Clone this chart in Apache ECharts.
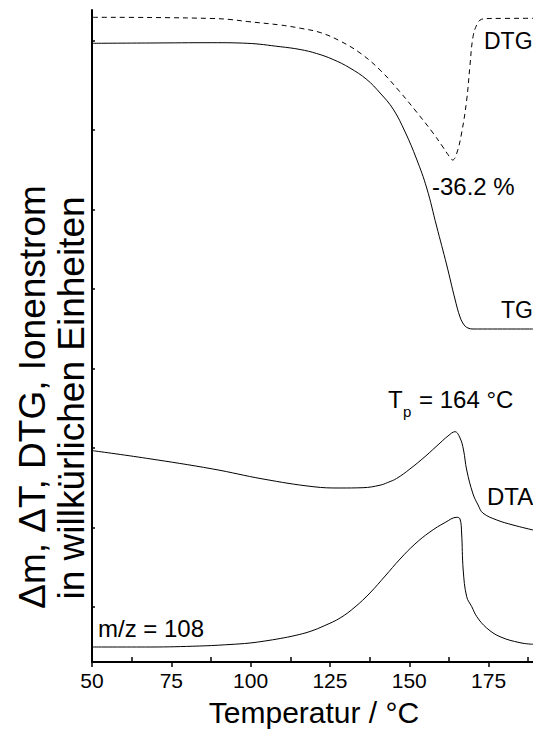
<!DOCTYPE html>
<html>
<head>
<meta charset="utf-8">
<script src="https://cdn.jsdelivr.net/npm/echarts@6/dist/echarts.min.js"></script>
<style>
html,body{margin:0;padding:0;background:#fff;}
#chart{width:533px;height:731px;}
</style>
</head>
<body>
<div id="chart"></div>
<script>
// Temperature (°C) and signal (arbitrary units)
const xTickLabels = [50, 75, 100, 125, 150, 175];
const xMinorTicks = [62.5, 87.5, 112.5, 137.5, 162.5, 187.5];
const yTicks = [55, 134.5, 214, 293.5, 373, 452.5, 532, 621];

const dtgT = [50.3, 68.3, 88.1, 93.5, 98.9, 109.3, 115.6, 121.9, 128.2, 134.5, 140.8, 147.1, 152.3, 157.5, 160.6, 162.2, 163.7, 165.0, 166.5, 168.1, 169.1, 170.1, 171.4, 172.8, 175.4, 189];
const dtgV = [644.7, 644.5, 643.5, 642.5, 640.5, 637, 633.8, 629.5, 621, 609, 592, 570, 550, 529, 515, 507.5, 502, 509, 529, 562, 595.3, 625.3, 638, 642.7, 643.5, 643.7];

const tgT = [50.3, 68.3, 88.1, 98.9, 109.3, 115.6, 120.8, 126.0, 131.3, 136.6, 140.8, 144.9, 148.7, 152.3, 155.5, 158.6, 161.8, 164.4, 166.0, 167.3, 168.5, 170.1, 189];
const tgV = [618.7, 619, 619.3, 618.7, 615.3, 612.5, 608.5, 602.5, 594, 582.5, 569, 553, 530, 503, 474, 436, 397, 363, 345, 337, 334, 333, 333];

const dtaT = [50.3, 67.2, 88.1, 103.9, 119.7, 128.2, 135.4, 140.8, 143.2, 146.0, 150.2, 155.0, 159.7, 162.2, 164.4, 166.0, 167.1, 168.1, 170.1, 171.7, 173.2, 177.6, 182.7, 189];
const dtaV = [211.3, 203.7, 193, 183, 175.3, 174, 174.3, 176.8, 179.5, 183.5, 193, 205.5, 219, 226, 230.3, 224, 212, 192, 168, 157, 149, 142, 137, 132];

const mzT = [50.3, 68.3, 84.0, 93.5, 99.8, 104.5, 109.3, 114.0, 118.7, 123.4, 128.2, 132.9, 137.6, 142.4, 147.1, 151.8, 156.5, 161.3, 165.0, 166.0, 166.5, 167.0, 168.1, 169.7, 171.3, 174.4, 178.6, 184.9, 189];
const mzV = [15, 15, 16, 17.5, 19, 21, 23.5, 26.5, 30.5, 36.5, 44, 55, 69, 86, 103, 118, 130, 139.5, 144.7, 143, 129, 92, 65.3, 55.3, 45.3, 34, 25.3, 19.3, 17.7];

function pairs(xs, ys) { return xs.map((x, i) => [x, ys[i]]); }

const chart = echarts.init(document.getElementById('chart'), null, {renderer: 'svg'});
const FONT = 'Liberation Sans, Arial, sans-serif';
const lineBase = {type: 'line', showSymbol: false, symbol: 'none', smooth: 0.4, animation: false, xAxisIndex: 0, yAxisIndex: 0};

const option = {
  animation: false,
  backgroundColor: '#fff',
  grid: {left: 92, right: 0, top: 10, bottom: 69, containLabel: false},
  xAxis: [{
    type: 'value', min: 50, max: 189,
    axisLine: {show: true, lineStyle: {color: '#000', width: 2}},
    axisTick: {show: true, inside: false, length: 5, lineStyle: {color: '#000', width: 1.5}, customValues: xTickLabels},
    axisLabel: {show: true, color: '#000', fontFamily: FONT, fontSize: 21, margin: 8, customValues: xTickLabels},
    splitLine: {show: false}
  }, {
    type: 'value', min: 50, max: 189, position: 'bottom',
    axisLine: {show: false},
    axisTick: {show: true, inside: true, length: 5, lineStyle: {color: '#000', width: 1.5}, customValues: xMinorTicks},
    axisLabel: {show: false},
    splitLine: {show: false}
  }],
  yAxis: {
    type: 'value', min: 0, max: 652,
    axisLine: {show: true, lineStyle: {color: '#000', width: 2}},
    axisTick: {show: true, inside: true, length: 3, lineStyle: {color: '#000', width: 1.5}, customValues: yTicks},
    axisLabel: {show: false},
    splitLine: {show: false}
  },
  series: [
    Object.assign({}, lineBase, {name: 'DTG', data: pairs(dtgT, dtgV), lineStyle: {color: '#000', width: 1, type: [5, 4]}}),
    Object.assign({}, lineBase, {name: 'TG', data: pairs(tgT, tgV), lineStyle: {color: '#000', width: 1}}),
    Object.assign({}, lineBase, {name: 'DTA', data: pairs(dtaT, dtaV), lineStyle: {color: '#000', width: 1}}),
    Object.assign({}, lineBase, {name: 'm/z = 108', data: pairs(mzT, mzV), lineStyle: {color: '#000', width: 1}})
  ],
  graphic: [
    {type: 'text', left: 484, top: 29, style: {text: 'DTG', font: '23px ' + FONT, fill: '#000'}},
    {type: 'text', left: 432, top: 174, style: {text: '-36.2 %', font: '24px ' + FONT, fill: '#000'}},
    {type: 'text', left: 501, top: 298, style: {text: 'TG', font: '23px ' + FONT, fill: '#000'}},
    {type: 'text', left: 388, top: 387, style: {text: 'T', font: '24px ' + FONT, fill: '#000'}},
    {type: 'text', left: 403, top: 404, style: {text: 'p', font: '15px ' + FONT, fill: '#000'}},
    {type: 'text', left: 419, top: 387, style: {text: '= 164 °C', font: '24px ' + FONT, fill: '#000'}},
    {type: 'text', left: 487, top: 484, style: {text: 'DTA', font: '24px ' + FONT, fill: '#000'}},
    {type: 'text', left: 98, top: 616, style: {text: 'm/z = 108', font: '24px ' + FONT, fill: '#000'}},
    {type: 'text', x: 314, y: 712, style: {text: 'Temperatur / °C', font: '30px ' + FONT, fill: '#000', align: 'center', verticalAlign: 'middle'}},
    {type: 'text', x: 32, y: 397, rotation: Math.PI / 2, style: {text: 'Δm, ΔT, DTG, Ionenstrom', font: '37px ' + FONT, fill: '#000', align: 'center', verticalAlign: 'middle'}},
    {type: 'text', x: 71, y: 398, rotation: Math.PI / 2, style: {text: 'in willkürlichen Einheiten', font: '37px ' + FONT, fill: '#000', align: 'center', verticalAlign: 'middle'}}
  ]
};
chart.setOption(option);
</script>
</body>
</html>
